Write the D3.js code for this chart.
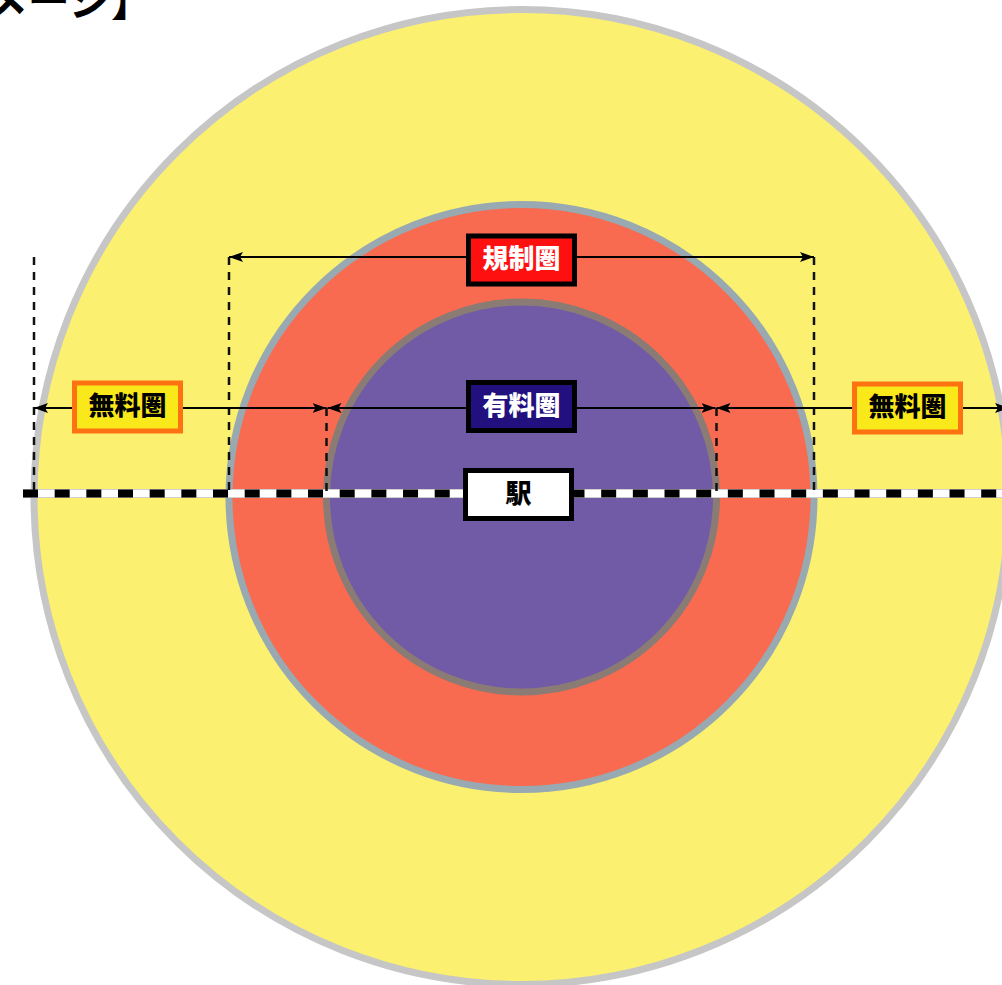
<!DOCTYPE html>
<html>
<head>
<meta charset="utf-8">
<script src="https://cdn.jsdelivr.net/npm/d3@7"></script>
<style>
body { margin: 0; background: #fff; overflow: hidden; }
</style>
</head>
<body>
<svg id="chart"></svg>
<script>
// zones, outermost first (radius, relative units)
var zoneNames = ["無料圏", "規制圏", "有料圏"];
var zoneRadius = [2.5, 1.5, 1.0];
var stationLabel = "駅";
var titleText = "【イメージ】";

var dim = { width: 1002, height: 985 };
var center = { x: 521.5, y: 497 };
var railY = 493.5;
var topArrowY = 257;
var midArrowY = 408;

var zoneFill = { "無料圏": "#fbf06f", "規制圏": "#f86b50", "有料圏": "#715aa6" };
var zoneRing = { "無料圏": "#c6c6c6", "規制圏": "#98a9b1", "有料圏": "#8a7b75" };
var boxStyle = {
    "無料圏": { fill: "#f9e81a", stroke: "#ff7212", text: "#000" },
    "規制圏": { fill: "#ff1010", stroke: "#000", text: "#fff" },
    "有料圏": { fill: "#22107e", stroke: "#000", text: "#fff" },
    "駅": { fill: "#fff", stroke: "#000", text: "#000" }
};

var zones = zoneNames.map(function(n, i) { return { name: n, r: zoneRadius[i] }; });

var rScale = d3.scaleLinear()
    .domain([0, d3.max(zoneRadius)])
    .range([0, 487.5]);

var svg = d3.select("#chart")
    .attr("width", dim.width)
    .attr("height", dim.height)
    .style("font-family", "'Noto Sans CJK JP', 'Noto Sans', sans-serif");

// arrow head
svg.append("defs").append("marker")
    .attr("id", "arrow")
    .attr("viewBox", "0 -5 14 10")
    .attr("refX", 14)
    .attr("refY", 0)
    .attr("markerUnits", "userSpaceOnUse")
    .attr("markerWidth", 14)
    .attr("markerHeight", 10)
    .attr("orient", "auto-start-reverse")
    .append("path")
    .attr("d", "M0,-5L14,0L0,5L3,0Z")
    .attr("fill", "#000");

// circles
svg.append("g").selectAll("circle")
    .data(zones).enter()
    .append("circle")
    .attr("cx", center.x)
    .attr("cy", center.y)
    .attr("r", function(d) { return rScale(d.r); })
    .attr("fill", function(d) { return zoneFill[d.name]; })
    .attr("stroke", function(d) { return zoneRing[d.name]; })
    .attr("stroke-width", 7);

var rOut = rScale(zoneRadius[0]), rReg = rScale(zoneRadius[1]), rPay = rScale(zoneRadius[2]);

// railway (broken by the station box)
var stW = 106, stH = 48;
var stX = center.x - 3, stY = railY + 1;
var railSegs = [
    [center.x - rOut - 11, stX],
    [stX + stW / 2 - 2, dim.width + 20]
];
var rail = svg.append("g");
railSegs.forEach(function(s) {
    rail.append("line")
        .attr("x1", s[0]).attr("x2", s[1])
        .attr("y1", railY).attr("y2", railY)
        .attr("stroke", "#cfcfcf").attr("stroke-width", 9);
    rail.append("line")
        .attr("x1", s[0]).attr("x2", s[1])
        .attr("y1", railY).attr("y2", railY)
        .attr("stroke", "#fff").attr("stroke-width", 7);
    rail.append("line")
        .attr("x1", s[0]).attr("x2", s[1])
        .attr("y1", railY).attr("y2", railY)
        .attr("stroke", "#000").attr("stroke-width", 8)
        .attr("stroke-dasharray", "15,16.67");
});

// dashed guides
var guides = [
    { x: center.x - rOut, y1: topArrowY },
    { x: center.x + rOut, y1: topArrowY },
    { x: center.x - rReg, y1: topArrowY },
    { x: center.x + rReg, y1: topArrowY },
    { x: center.x - rPay, y1: midArrowY },
    { x: center.x + rPay, y1: midArrowY }
];
svg.append("g").selectAll("line")
    .data(guides).enter()
    .append("line")
    .attr("x1", function(d) { return d.x; })
    .attr("x2", function(d) { return d.x; })
    .attr("y1", function(d) { return d.y1; })
    .attr("y2", railY + 2)
    .attr("stroke", "#111")
    .attr("stroke-width", 2.5)
    .attr("stroke-dasharray", "8,7");

// dimension arrows
var arrows = [
    { x1: center.x - rReg, x2: center.x + rReg, y: topArrowY },
    { x1: center.x - rOut, x2: center.x - rPay, y: midArrowY },
    { x1: center.x - rPay + 1, x2: center.x + rPay - 1, y: midArrowY },
    { x1: center.x + rPay, x2: center.x + rOut, y: midArrowY }
];
svg.append("g").selectAll("line")
    .data(arrows).enter()
    .append("line")
    .attr("x1", function(d) { return d.x1; })
    .attr("x2", function(d) { return d.x2; })
    .attr("y1", function(d) { return d.y; })
    .attr("y2", function(d) { return d.y; })
    .attr("stroke", "#000")
    .attr("stroke-width", 2)
    .attr("marker-start", "url(#arrow)")
    .attr("marker-end", "url(#arrow)");

// label boxes
var labels = [
    { text: zoneNames[1], x: center.x, y: 260 },
    { text: zoneNames[2], x: center.x, y: 406.5 },
    { text: zoneNames[0], x: center.x - (rOut + rReg) / 2 - 4, y: 407 },
    { text: zoneNames[0], x: center.x + (rOut + rReg) / 2 - 4, y: 408 },
    { text: stationLabel, x: stX, y: stY }
];
var lab = svg.append("g").selectAll("g")
    .data(labels).enter()
    .append("g")
    .attr("transform", function(d) { return "translate(" + d.x + "," + d.y + ")"; });

lab.append("rect")
    .attr("x", -stW / 2)
    .attr("y", -stH / 2)
    .attr("width", stW)
    .attr("height", stH)
    .attr("fill", function(d) { return boxStyle[d.text].fill; })
    .attr("stroke", function(d) { return boxStyle[d.text].stroke; })
    .attr("stroke-width", 5);

lab.append("text")
    .attr("text-anchor", "middle")
    .attr("dy", "0.35em")
    .attr("y", -1)
    .attr("font-size", 26)
    .attr("font-weight", 900)
    .attr("fill", function(d) { return boxStyle[d.text].text; })
    .text(function(d) { return d.text; });

// title (cut off at the top-left edge)
svg.append("text")
    .attr("x", 153)
    .attr("y", 16)
    .attr("text-anchor", "end")
    .attr("font-size", 42)
    .attr("font-weight", 700)
    .attr("fill", "#000")
    .text(titleText);
</script>
</body>
</html>
